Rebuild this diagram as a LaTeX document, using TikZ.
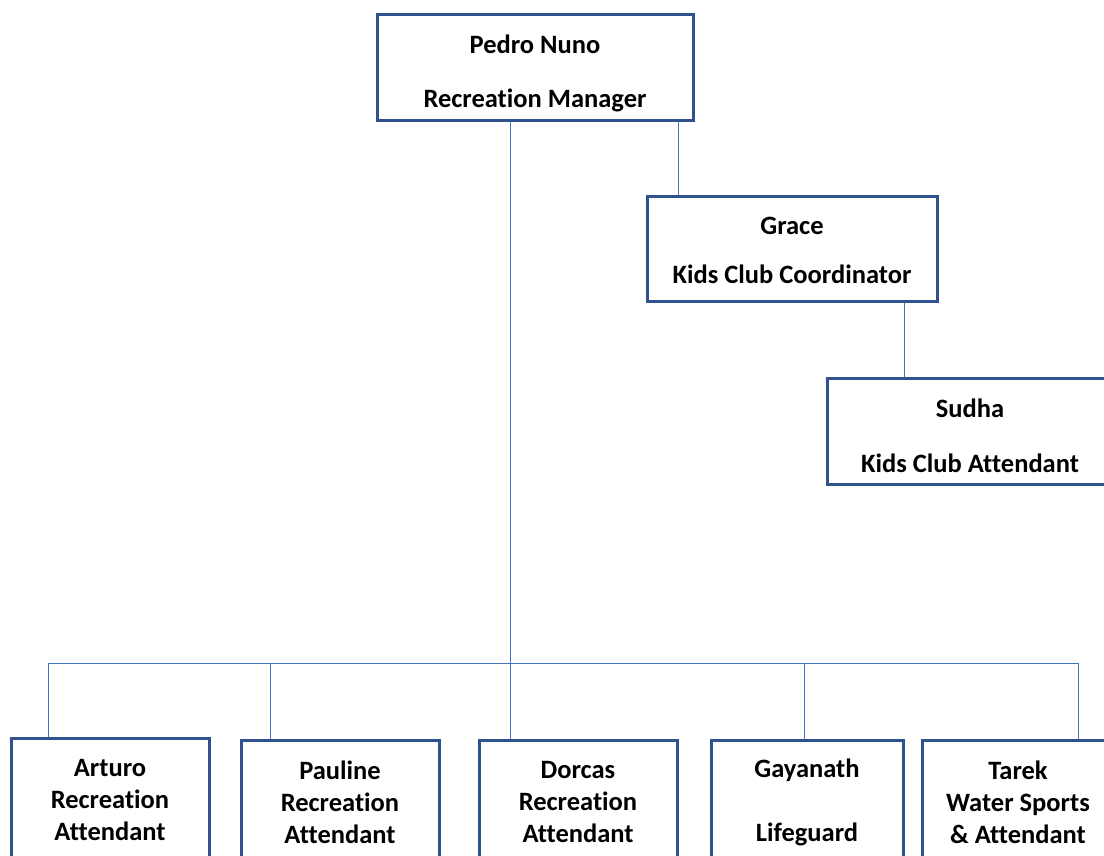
\documentclass[tikz,border=0pt]{standalone}
\usepackage{fontspec}
\setmainfont{Carlito}[Ligatures={NoCommon,NoContextual},RawFeature={-liga;-clig;-calt;-dlig;-ccmp}]
\definecolor{boxblue}{HTML}{2F528F}
\definecolor{linkblue}{HTML}{4472C4}
\begin{document}
\begin{tikzpicture}[x=1pt,y=-1pt,
  box/.style={draw=boxblue,line width=3pt,fill=white},
  link/.style={draw=linkblue,line width=1pt},
  lbl/.style={font=\fontsize{26.5}{32}\selectfont\bfseries,inner sep=0pt,anchor=center}]
\useasboundingbox (0,0) rectangle (1104,855);
\clip (0,0) rectangle (1104,855);
% bus coordinates
\coordinate (busL) at (48,663);
\coordinate (busR) at (1078,663);
\coordinate (busM) at (510,663);
\coordinate (busP) at (270,663);
\coordinate (busG) at (804,663);
% boxes
\draw[box] (377,14) rectangle (693,120);
\draw[box] (647,196) rectangle (937,301);
\draw[box] (827,378) rectangle (1114,484);
\draw[box] (11,738) rectangle (209,870);
\draw[box] (241,740) rectangle (439,870);
\draw[box] (479,740) rectangle (677,870);
\draw[box] (711,740) rectangle (903,870);
\draw[box] (922,740) rectangle (1114,870);
% links
\draw[link] (510,121.5) -- (busM);
\draw[link] (678,121.5) -- (678,194.5);
\draw[link] (904,302.5) -- (904,376.5);
\draw[link] (busL) -- (busR);
\draw[link] (busL) -- (48,736.5);
\draw[link] (busP) -- (270,738.5);
\draw[link] (busM) -- (510,738.5);
\draw[link] (busG) -- (804,738.5);
\draw[link] (busR) -- (1078,738.5);
% texts
\node[lbl] (t1) at (535,44) {Pedro Nuno};
\node[lbl] (t2) at (535,100) {Recreation Manager};
\node[lbl] (t3) at (792,226) {Grace};
\node[lbl] (t4) at (792,274) {Kids Club Coordinator};
\node[lbl] (t5) at (970,408) {Sudha};
\node[lbl] (t6) at (970,463) {Kids Club Attendant};
\node[lbl,align=center] (t7) at (110,800) {Arturo\\Recreation\\Attendant};
\node[lbl,align=center] (t8) at (340,802) {Pauline\\Recreation\\Attendant};
\node[lbl,align=center] (t9) at (578,802) {Dorcas\\Recreation\\Attendant};
\node[lbl] (t10) at (807,770) {Gayanath};
\node[lbl] (t11) at (807,834) {Lifeguard};
\node[lbl,align=center] (t12) at (1018,802) {Tarek\\Water Sports\\\& Attendant};
\end{tikzpicture}
\end{document}
